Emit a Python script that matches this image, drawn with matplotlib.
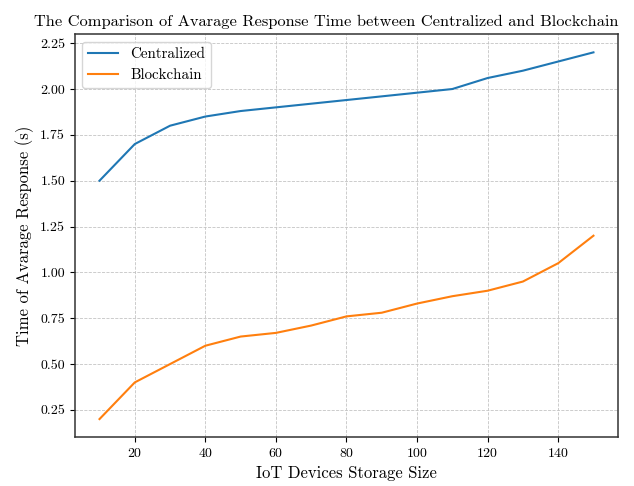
import matplotlib
matplotlib.use('Agg')
import matplotlib.pyplot as plt

plt.rcParams['font.family'] = 'serif'
plt.rcParams['font.serif'] = ['cmr10']
plt.rcParams['mathtext.fontset'] = 'cm'
plt.rcParams['axes.formatter.use_mathtext'] = True

# data
sizes = [10, 20, 30, 40, 50, 60, 70, 80, 90, 100, 110, 120, 130, 140, 150]
centralized = [1.50, 1.70, 1.80, 1.85, 1.88, 1.90, 1.92, 1.94, 1.96, 1.98, 2.00, 2.06, 2.10, 2.15, 2.20]
blockchain = [0.20, 0.40, 0.50, 0.60, 0.65, 0.67, 0.71, 0.76, 0.78, 0.83, 0.87, 0.90, 0.95, 1.05, 1.20]

fig, ax = plt.subplots(figsize=(6.34, 4.86), dpi=100)
ax.plot(sizes, centralized, color='#1f77b4', linewidth=1.5, label='Centralized')
ax.plot(sizes, blockchain, color='#ff7f0e', linewidth=1.5, label='Blockchain')

ax.set_title('The Comparison of Avarage Response Time between Centralized and Blockchain',
             fontsize=11.8, x=0.462)
ax.set_xlabel('IoT Devices Storage Size', fontsize=12)
ax.set_ylabel('Time of Avarage Response (s)', fontsize=12)
ax.set_yticks([0.25, 0.5, 0.75, 1.0, 1.25, 1.5, 1.75, 2.0, 2.25])
ax.set_yticklabels(['0.25', '0.50', '0.75', '1.00', '1.25', '1.50', '1.75', '2.00', '2.25'])
ax.grid(True, linestyle='--', color='#c4c4c4', linewidth=0.6)
for s in ax.spines.values():
    s.set_color('#333333')
    s.set_linewidth(1.1)
ax.legend(loc='upper left', fontsize=10.8)

plt.subplots_adjust(left=0.118, right=0.975, top=0.93, bottom=0.1)
fig.savefig('out.png', dpi=100)
